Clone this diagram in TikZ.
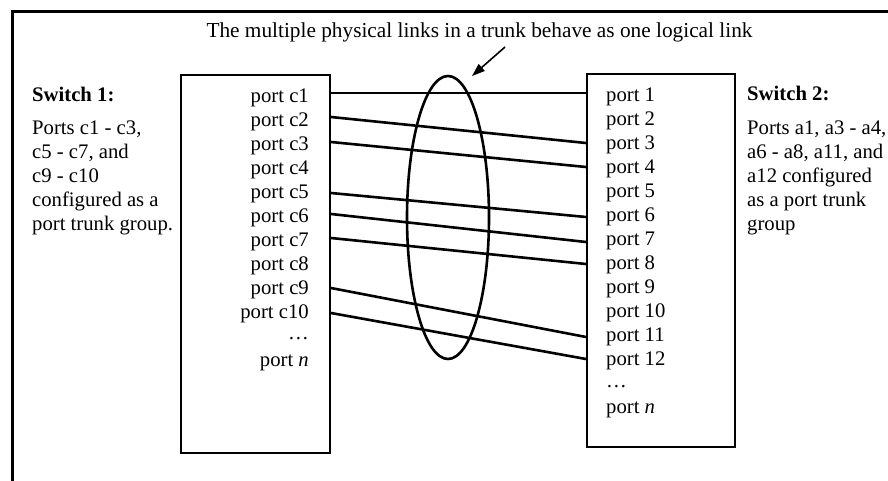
\documentclass[tikz,border=0pt]{standalone}
\usepackage{fontspec}
\setmainfont{Liberation Serif}
\usetikzlibrary{shapes.geometric,arrows.meta}
\begin{document}
\begin{tikzpicture}[x=1pt,y=-1pt,
  txt/.style={inner sep=0pt,font=\fontsize{20.7}{24}\selectfont,yshift=-5pt},
  lport/.style={txt,anchor=mid east},
  rport/.style={txt,anchor=mid west},
  sidetxt/.style={txt,anchor=mid west},
  swbox/.style={draw,line width=2pt,inner sep=0pt},
  link/.style={line width=2.6pt},
  frame/.style={line width=3pt}]
\useasboundingbox (0,0) rectangle (888,481);
\draw[frame] (12,481) -- (12,12) -- (888,12);
% title and arrow
\node[txt,anchor=mid,font=\fontsize{21.3}{24}\selectfont] (title) at (479.5,30) {The multiple physical links in a trunk behave as one logical link};
\coordinate (arrstart) at (505,47);
\coordinate (arrend) at (472,76);
\draw[line width=1.6pt,-{Triangle[length=13pt,width=9pt]}] (arrstart) -- (arrend);
% boxes
\node[swbox,minimum width=149pt,minimum height=378pt] (lbox) at (255.5,264) {};
\node[swbox,minimum width=148pt,minimum height=373pt] (rbox) at (661,260.5) {};
% left labels
\node[lport] (lc1) at (309,95) {port c1};
\node[lport] (lc2) at (309,119) {port c2};
\node[lport] (lc3) at (309,143) {port c3};
\node[lport] (lc4) at (309,167) {port c4};
\node[lport] (lc5) at (309,191) {port c5};
\node[lport] (lc6) at (309,215) {port c6};
\node[lport] (lc7) at (309,239) {port c7};
\node[lport] (lc8) at (309,263) {port c8};
\node[lport] (lc9) at (309,287) {port c9};
\node[lport] (lc10) at (309,311) {port c10};
\node[lport] (ldots) at (309,332) {\dots};
\node[lport] (lcn) at (309,359) {port \textit{n}};
% right labels
\node[rport] (r1) at (606,94) {port 1};
\node[rport] (r2) at (606,118) {port 2};
\node[rport] (r3) at (606,142) {port 3};
\node[rport] (r4) at (606,166) {port 4};
\node[rport] (r5) at (606,190) {port 5};
\node[rport] (r6) at (606,214) {port 6};
\node[rport] (r7) at (606,238) {port 7};
\node[rport] (r8) at (606,262) {port 8};
\node[rport] (r9) at (606,286) {port 9};
\node[rport] (r10) at (606,310) {port 10};
\node[rport] (r11) at (606,334) {port 11};
\node[rport] (r12) at (606,358) {port 12};
\node[rport] (rdots) at (606,380) {\dots};
\node[rport] (rn) at (606,406) {port \textit{n}};
% side texts
\node[sidetxt] (sw1) at (32,94) {\bfseries Switch 1:};
\node[sidetxt] (sw1a) at (32,127) {Ports c1 - c3,};
\node[sidetxt] (sw1b) at (32,151) {c5 - c7, and};
\node[sidetxt] (sw1c) at (32,175) {c9 - c10};
\node[sidetxt] (sw1d) at (32,199) {configured as a};
\node[sidetxt] (sw1e) at (32,223) {port trunk group.};
\node[sidetxt] (sw2) at (747,93) {\bfseries Switch 2:};
\node[sidetxt] (sw2a) at (747,127) {Ports a1, a3 - a4,};
\node[sidetxt] (sw2b) at (747,151) {a6 - a8, a11, and};
\node[sidetxt] (sw2c) at (747,175) {a12 configured};
\node[sidetxt] (sw2d) at (747,199) {as a port trunk};
\node[sidetxt] (sw2e) at (747,223) {group};
% links
\draw[link] (lbox.east |- 0,93) -- (rbox.west |- 0,93);
\draw[link] (lbox.east |- 0,117) -- (rbox.west |- 0,143);
\draw[link] (lbox.east |- 0,142) -- (rbox.west |- 0,167);
\draw[link] (lbox.east |- 0,193) -- (rbox.west |- 0,217);
\draw[link] (lbox.east |- 0,214) -- (rbox.west |- 0,242);
\draw[link] (lbox.east |- 0,238) -- (rbox.west |- 0,264);
\draw[link] (lbox.east |- 0,288) -- (rbox.west |- 0,337);
\draw[link] (lbox.east |- 0,313) -- (rbox.west |- 0,359);
% trunk ellipse
\node[ellipse,draw,line width=2.6pt,minimum width=82pt,minimum height=283pt,inner sep=0pt] (trunk) at (448,217.5) {};
\end{tikzpicture}
\end{document}
